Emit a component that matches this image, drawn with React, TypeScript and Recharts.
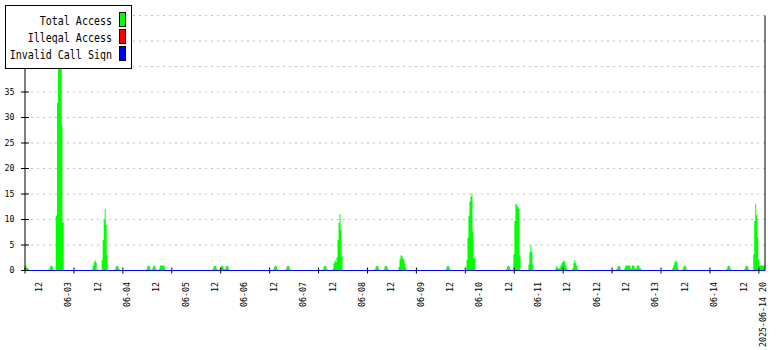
import React from 'react'
import { ComposedChart, Area, Line, XAxis, YAxis, CartesianGrid, Legend, ReferenceLine } from 'recharts'

// [hour of day, accesses] -- each value holds until the next point
type Pt = [number, number]

const jun02: Pt[] = [
  [6.25, 1], [6.84, 0.5], [7.66, 0],
  [15.95, 0.3], [16.36, 0.8], [16.77, 1], [17.18, 0.8], [17.59, 0.3], [17.99, 0],
  [18.81, 10.8], [19.34, 32.9], [19.75, 47], [20.53, 44], [21.26, 28.5], [21.55, 9.4], [22.08, 0],
]
const jun03: Pt[] = [
  [9.52, 0.2], [9.93, 1], [10.34, 1.6], [10.74, 2], [11.15, 1.5], [11.56, 0.2], [11.97, 0],
  [13.6, 2], [14.01, 6], [14.42, 9.9], [14.83, 12], [15.24, 8.9], [15.65, 3], [16.05, 0],
  [18.91, 0.3], [19.32, 0.8], [19.73, 1], [20.14, 0.8], [20.55, 0.3], [20.96, 0],
]
const jun04: Pt[] = [
  [7.78, 0.3], [8.19, 0.8], [8.6, 1], [9.0, 0.8], [9.41, 0.3], [9.82, 0],
  [10.03, 0.3], [10.44, 0.8], [10.85, 1], [11.25, 0.8], [11.66, 0.3], [12.07, 0],
  [13.01, 0.4], [13.42, 1], [15.34, 0.4], [15.75, 0],
]
const jun05: Pt[] = [
  [10.87, 0.3], [11.27, 0.8], [11.68, 1], [12.09, 0.8], [12.5, 0.3], [12.91, 0],
  [13.81, 0.3], [14.21, 0.8], [14.62, 1], [15.03, 0.8], [15.44, 0.3],
  [15.85, 0.3], [16.26, 0.8], [16.67, 1], [17.07, 0.8], [17.48, 0.3], [17.89, 0],
]
const jun06: Pt[] = [
  [11.66, 0.3], [12.07, 0.8], [12.48, 1], [12.89, 0.8], [13.3, 0.3], [13.71, 0],
  [16.77, 0.3], [17.18, 0.8], [17.58, 1], [17.99, 0.8], [18.4, 0.3], [18.81, 0],
]
const jun07: Pt[] = [
  [7.88, 0.3], [8.29, 0.8], [8.7, 1], [9.11, 0.8], [9.51, 0.3], [9.92, 0],
  [11.97, 0.4], [12.38, 1.4], [12.78, 2], [13.19, 1.6], [13.6, 2.6], [14.01, 6],
  [14.42, 9.3], [14.83, 11.1], [15.24, 8], [15.64, 2.8], [16.05, 0],
]
const jun08: Pt[] = [
  [5.13, 0.3], [5.54, 0.8], [5.95, 1], [6.36, 0.8], [6.77, 0.3], [7.17, 0],
  [8.8, 0.3], [9.21, 0.8], [9.62, 1], [10.03, 0.8], [10.44, 0.3], [10.85, 0],
  [14.93, 0.7], [15.34, 2.2], [15.74, 3], [16.15, 2.8], [16.56, 2.4], [16.97, 2],
  [17.38, 1.4], [17.79, 0.5], [18.2, 0],
]
const jun09: Pt[] = [
  [10.13, 0.3], [10.54, 0.8], [10.95, 1], [11.36, 0.8], [11.76, 0.3], [12.17, 0],
  [18.71, 2], [19.12, 6.4], [19.52, 10.7], [19.93, 13.5], [20.34, 14.5], [20.75, 15.1],
  [21.16, 7.6], [21.57, 2.4], [22.38, 0],
]
const jun10: Pt[] = [
  [10.84, 0.3], [11.25, 0.8], [11.66, 1], [12.07, 0.8], [12.48, 0.3], [12.88, 0],
  [13.91, 3.2], [14.31, 9.7], [14.72, 13.1], [15.13, 12.9], [15.54, 12.5], [15.95, 12.1],
  [16.36, 3], [16.77, 0],
  [20.04, 1.2], [20.44, 3.6], [20.85, 5], [21.26, 3.6], [21.67, 1.2], [22.08, 0],
]
const jun11: Pt[] = [
  [7.06, 0.5], [7.47, 1], [7.88, 0.5], [8.29, 0.3], [8.7, 0.6], [9.11, 1], [9.51, 1.4],
  [9.92, 1.7], [10.33, 2], [10.74, 1.6], [11.15, 1], [11.56, 0.4], [11.96, 0],
  [14.01, 0.5], [14.42, 1.4], [14.82, 2], [15.23, 1.4], [15.64, 1], [16.05, 0.3], [16.46, 0],
]
const jun12: Pt[] = [
  [7.98, 0.3], [8.39, 0.8], [8.79, 1], [9.2, 0.8], [9.61, 0.3], [10.02, 0],
  [11.25, 0.5], [11.66, 1], [13.7, 0.4], [14.31, 1], [15.33, 0.4], [16.35, 1],
  [17.38, 0.4], [18.19, 0],
]
const jun13: Pt[] = [
  [6.86, 0.5], [7.27, 1], [7.67, 1.6], [8.08, 2], [8.49, 1.6], [8.9, 0.5], [9.31, 0],
  [10.95, 0.3], [11.36, 0.8], [11.77, 1], [12.18, 0.8], [12.59, 0.3], [12.99, 0],
]
const jun14: Pt[] = [
  [4.92, 0.3], [5.33, 0.8], [5.74, 1], [6.15, 0.8], [6.56, 0.3], [6.97, 0],
  [12.27, 0.3], [12.68, 0.8], [13.09, 1], [13.5, 0.8], [13.9, 0.3], [14.31, 0],
  [15.95, 3.2], [16.35, 9.7], [16.76, 13.1], [17.17, 10.9], [17.58, 6.6], [17.99, 2.2],
  [18.4, 1], [20.75, 1],
]

// one list per day, starting 2025-06-02
const days = [jun02, jun03, jun04, jun05, jun06, jun07, jun08, jun09, jun10, jun11, jun12, jun13, jun14]

const seriesNames = ['Total Access', 'Illegal Access', 'Invalid Call Sign']
const seriesColors = ['#00ff00', '#ff0000', '#0000ff']

const yTicks = [0, 5, 10, 15, 20, 25, 30, 35, 40, 45, 50]
const labelHours = [12, 24, 36, 48, 60, 72, 84, 96, 108, 120, 132, 144, 156, 168, 180, 192, 204, 216, 228, 240, 252, 264, 276, 288, 300, 308]
const xLabels = ['12', '06-03', '12', '06-04', '12', '06-05', '12', '06-06', '12', '06-07', '12', '06-08', '12', '06-09', '12', '06-10', '12', '06-11', '12', '06-12', '12', '06-13', '12', '06-14', '12', '2025-06-14 20']
const markHours = [6.25, 26.25, 46.25, 66.25, 86.25, 106.25, 126.25, 146.25, 166.25, 186.25, 206.25, 226.25, 246.25, 266.25, 286.25, 306.25]

const rows = days.flatMap((pts, d) =>
  pts.map(([t, v]) => ({ h: d * 24 + t, total: v, illegal: 0, invalid: 0 }))
)

const mono = '"DejaVu Sans Mono", "Liberation Mono", monospace'

const XTick = (props: any) => {
  const { x, y, payload } = props
  const i = labelHours.indexOf(payload.value)
  if (i < 0) return <line x1={x} x2={x} y1={y - 3} y2={y + 3} stroke="#000" />
  return (
    <text transform={`translate(${x},${y + 11.5}) rotate(-90)`} textAnchor="end" dy="0.35em"
      fontFamily={mono} fontSize={8.3} fill="#000">
      {xLabels[i]}
    </text>
  )
}

const YTick = (props: any) => {
  const { x, y, payload } = props
  return (
    <g>
      <line x1={x - 4} x2={x + 4} y1={y} y2={y} stroke="#000" />
      <text x={x - 10.5} y={y} dy="0.35em" textAnchor="end" fontFamily={mono} fontSize={8.3} fill="#000">
        {payload.value}
      </text>
    </g>
  )
}

const LegendBox = () => (
  <div style={{ position: 'relative', width: 127, height: 64, boxSizing: 'border-box', border: '1px solid #000', background: '#fff', fontFamily: mono, fontSize: 10 }}>
    {seriesNames.map((name, i) => (
      <React.Fragment key={name}>
        <div style={{ position: 'absolute', right: 19, top: 9.3 + i * 17, lineHeight: '12px', whiteSpace: 'nowrap', color: '#000', transform: 'scaleY(1.2)' }}>{name}</div>
        <div style={{ position: 'absolute', left: 113, top: 6.3 + i * 17, width: 7, height: 15, boxSizing: 'border-box', border: '1px solid #000', background: seriesColors[i] }} />
      </React.Fragment>
    ))}
  </div>
)

export default function App() {
  return (
    <div style={{ position: 'absolute', left: 0, top: 0 }}>
      <ComposedChart width={780} height={350} data={rows} margin={{ top: 15.5, right: 15, bottom: 0, left: 0 }}>
        <CartesianGrid vertical={false} stroke="#c0c0c0" strokeDasharray="2 4" />
        <XAxis dataKey="h" type="number" domain={[6.25, 308.75]} allowDataOverflow
          ticks={[...markHours, ...labelHours].sort((a, b) => a - b)} interval={0}
          tick={<XTick />} tickLine={false} axisLine={false} tickSize={0} tickMargin={0} height={79.5} />
        <YAxis type="number" domain={[0, 50]} ticks={yTicks} interval={0} width={25}
          tick={<YTick />} tickLine={false} tickSize={0} tickMargin={0} axisLine={{ stroke: '#000' }} />
        <ReferenceLine x={308.75} stroke="#000" />
        <Area type="stepAfter" dataKey="total" name={seriesNames[0]} stroke="none" fill={seriesColors[0]} fillOpacity={1} isAnimationActive={false} />
        <Line type="linear" dataKey="illegal" name={seriesNames[1]} stroke={seriesColors[1]} dot={false} activeDot={false} isAnimationActive={false} />
        <Line type="linear" dataKey="invalid" name={seriesNames[2]} stroke={seriesColors[2]} strokeWidth={1.2} dot={false} activeDot={false} isAnimationActive={false} />
        <Legend layout="vertical" align="center" verticalAlign="middle"
          wrapperStyle={{ left: 5, top: 5, width: 127, height: 64 }} content={() => <LegendBox />} />
      </ComposedChart>
    </div>
  )
}
